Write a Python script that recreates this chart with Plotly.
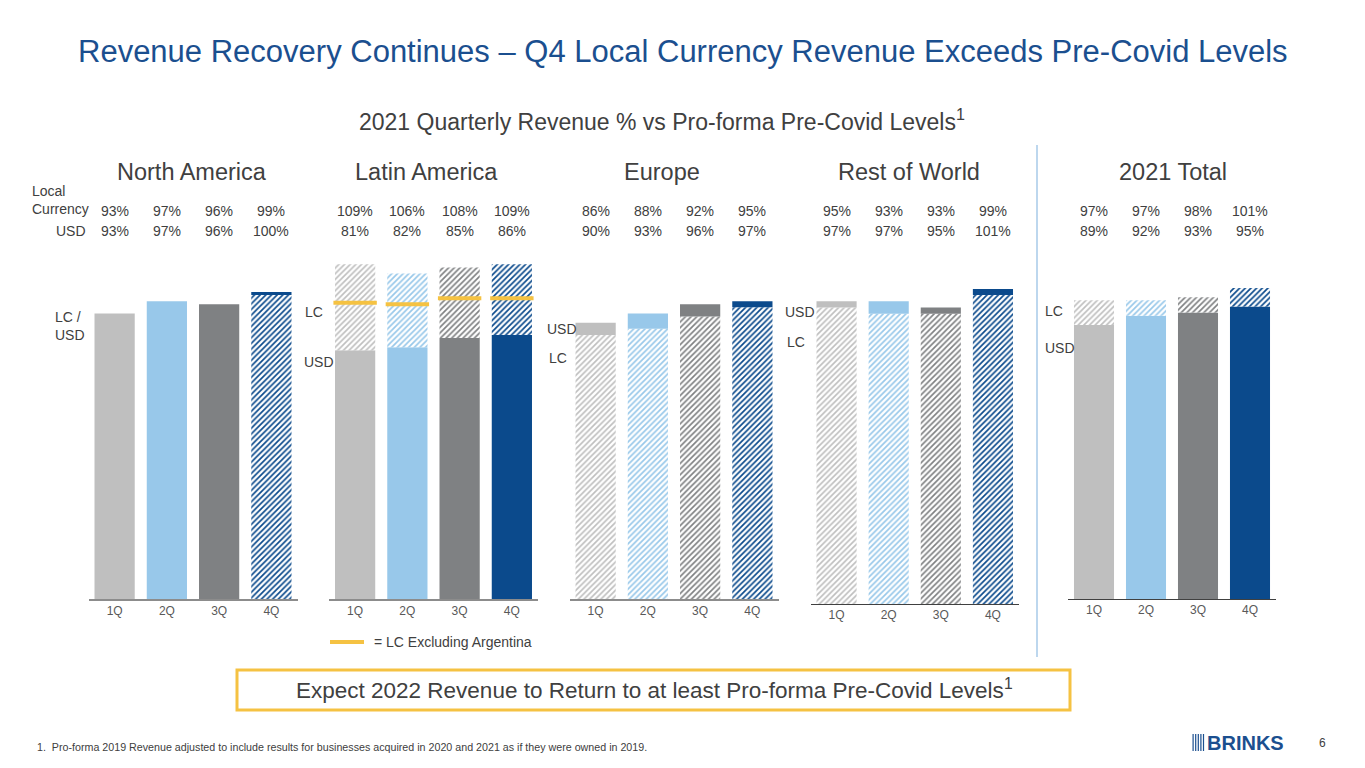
import plotly.graph_objects as go

# Dados (% vs níveis pré-Covid)
quarters = ['1Q', '2Q', '3Q', '4Q']
regions = ['North America', 'Latin America', 'Europe', 'Rest of World', '2021 Total']

lc_na = [93, 97, 96, 99]
usd_na = [93, 97, 96, 100]
lc_latam = [109, 106, 108, 109]
usd_latam = [81, 82, 85, 86]
lc_ex_argentina = [96.5, 96, 98, 98]
lc_eu = [86, 88, 92, 95]
usd_eu = [90, 93, 96, 97]
lc_row = [95, 93, 93, 99]
usd_row = [97, 97, 95, 101]
lc_total = [97, 97, 98, 101]
usd_total = [89, 92, 93, 95]

lc_values = [lc_na, lc_latam, lc_eu, lc_row, lc_total]
usd_values = [usd_na, usd_latam, usd_eu, usd_row, usd_total]

bar_colors = ['#BFBFBF', '#98C8EA', '#7F8183', '#0B4A8C']
W, H = 1365, 768
TXT = '#404040'
FONT = 'Liberation Sans'

# Posição de cada painel em pixels: x0, x1, base, px por %, cor do eixo, espessura, centro do título
panels = [
    (88.5, 297.5, 599, 3.07, '#8C8C8C', 2, 192),
    (329, 538, 599, 3.07, '#8C8C8C', 2, 426),
    (569.5, 778.5, 599, 3.07, '#8C8C8C', 2, 662),
    (810.5, 1019, 604, 3.12, '#404040', 1, 909),
    (1068, 1276, 599, 3.08, '#404040', 1, 1173),
]
y_max = 115


def px(x):
    return x / W


def py(y):
    return 1 - y / H


fig = go.Figure()

def bar(axis, q, base, height, color, hatched):
    if hatched:
        marker = dict(color='white', line_width=0,
                      pattern=dict(shape='/', fgcolor=color, bgcolor='white',
                                   size=4, solidity=0.42, fillmode='replace'))
    else:
        marker = dict(color=color, line_width=0)
    fig.add_trace(go.Bar(x=[q], y=[height], base=[base], width=0.77,
                         marker=marker, xaxis='x' + axis, yaxis='y' + axis,
                         showlegend=False, hoverinfo='skip'))


for i, (lc, usd) in enumerate(zip(lc_values, usd_values)):
    axis = '' if i == 0 else str(i + 1)
    for j, q in enumerate(quarters):
        c = bar_colors[j]
        if lc[j] == usd[j]:
            bar(axis, q, 0, usd[j], c, False)
        elif lc[j] < usd[j]:
            bar(axis, q, 0, lc[j], c, True)
            bar(axis, q, lc[j], usd[j] - lc[j], c, False)
        else:
            bar(axis, q, 0, usd[j], c, False)
            bar(axis, q, usd[j], lc[j] - usd[j], c, True)

# Linha amarela: LC excluindo Argentina
fig.add_trace(go.Scatter(x=quarters, y=lc_ex_argentina, mode='markers',
                         marker=dict(symbol='line-ew', size=31,
                                     line=dict(color='#F5C242', width=4)),
                         xaxis='x2', yaxis='y2', showlegend=False, hoverinfo='skip'))

layout = dict(
    width=W, height=H, margin=dict(l=0, r=0, t=0, b=0),
    paper_bgcolor='white', plot_bgcolor='white', barmode='overlay',
    font=dict(family=FONT, color=TXT), showlegend=False,
)
annotations = []


def note(text, x, y, size, xanchor='center', color=TXT, xref='paper', align='left'):
    annotations.append(dict(x=x if xref != 'paper' else px(x), y=py(y), xref=xref, yref='paper',
                            text=text, showarrow=False, xanchor=xanchor, yanchor='middle',
                            align=align, font=dict(size=size, color=color)))


for i, (x0, x1, base, scale, lcol, lw, tx) in enumerate(panels):
    n = '' if i == 0 else str(i + 1)
    top = base - y_max * scale
    layout['xaxis' + n] = dict(domain=[px(x0), px(x1)], anchor='y' + n,
                               type='category', range=[-0.5, 3.5],
                               showline=True, linecolor=lcol, linewidth=lw,
                               showgrid=False, zeroline=False, ticks='',
                               tickfont=dict(size=12, color='#595959'))
    layout['yaxis' + n] = dict(domain=[py(base), py(top)], anchor='x' + n,
                               range=[0, y_max], visible=False, showgrid=False)
    # títulos dos painéis
    note(regions[i], tx, 172, 23.5)
    # linhas de percentuais
    for j, q in enumerate(quarters):
        note(f'{lc_values[i][j]}%', q, 211, 14, xref='x' + n)
        note(f'{usd_values[i][j]}%', q, 231, 14, xref='x' + n)

# textos soltos
note('Local<br>Currency', 30, 200, 14, xanchor='left')
note('USD', 88, 231, 14, xanchor='right')
note('LC /<br>USD', 53, 326.5, 14, xanchor='left')
note('LC', 303, 312, 14, xanchor='left')
note('USD', 302, 362, 14, xanchor='left')
note('USD', 545, 329, 14, xanchor='left')
note('LC', 547, 358, 14, xanchor='left')
note('USD', 783, 312, 14, xanchor='left')
note('LC', 785, 342, 14, xanchor='left')
note('LC', 1043, 311, 14, xanchor='left')
note('USD', 1043, 348, 14, xanchor='left')

note('Revenue Recovery Continues – Q4 Local Currency Revenue Exceeds Pre-Covid Levels',
     683, 51, 31, color='#1B4F8F')
note('2021 Quarterly Revenue % vs Pro-forma Pre-Covid Levels<sup>1</sup>', 662, 120, 23)
note('= LC Excluding Argentina', 372, 642, 14, xanchor='left')
note('Expect 2022 Revenue to Return to at least Pro-forma Pre-Covid Levels<sup>1</sup>',
     654, 689, 22.5)
note('1.  Pro-forma 2019 Revenue adjusted to include results for businesses acquired in 2020 and 2021 as if they were owned in 2019.',
     35, 747, 10.7, xanchor='left')
note('6', 1322, 743, 12)
note('<b>BRINKS</b>', 1205, 743, 20, xanchor='left', color='#1B4F8F')

shapes = [
    # legenda amarela
    dict(type='line', xref='paper', yref='paper', x0=px(330), x1=px(364),
         y0=py(642), y1=py(642), line=dict(color='#F5C242', width=4)),
    # divisor vertical
    dict(type='line', xref='paper', yref='paper', x0=px(1037), x1=px(1037),
         y0=py(145), y1=py(657), line=dict(color='#BDD7EE', width=2)),
    # caixa amarela
    dict(type='rect', xref='paper', yref='paper', x0=px(237), x1=px(1070),
         y0=py(710), y1=py(670), line=dict(color='#F5C242', width=3)),
]
# barras do logo
for k in range(5):
    shapes.append(dict(type='rect', xref='paper', yref='paper',
                       x0=px(1192.5 + k * 2.6), x1=px(1193.7 + k * 2.6),
                       y0=py(751), y1=py(734), line_width=0, fillcolor='#1B4F8F'))

layout['annotations'] = annotations
layout['shapes'] = shapes
fig.update_layout(**layout)

fig.write_html('out.html', config={'displayModeBar': False},
               post_script="document.body.style.margin='0';")
